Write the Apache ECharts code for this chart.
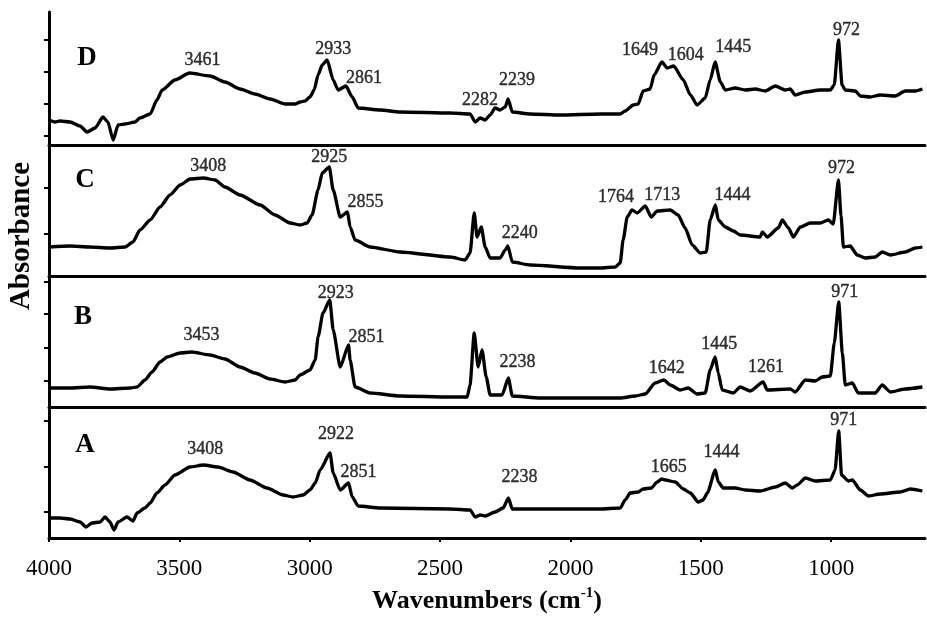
<!DOCTYPE html>
<html>
<head>
<meta charset="utf-8">
<script src="https://cdn.jsdelivr.net/npm/echarts@6/dist/echarts.min.js"></script>
<style>
html, body { margin: 0; padding: 0; background: #fff; }
#chart { width: 927px; height: 620px; }
</style>
</head>
<body>
<div id="chart"></div>
<script>
// spectra: [wavenumber, absorbance in arbitrary units]
var specD = [[4000,25],[3977,23],[3958,24],[3919,23],[3881,19],[3854,13],[3823,17],[3793,28],[3774,23],[3754,5],[3735,20],[3708,21],[3670,23],[3651,27],[3612,31],[3586,45],[3566,55],[3517,65],[3461,72],[3382,69],[3325,63],[3267,56],[3210,51],[3152,46],[3094,41],[3056,41],[3037,43],[3018,44],[2999,48],[2983,55],[2968,70],[2952,80],[2933,85],[2910,65],[2891,55],[2861,59],[2837,48],[2814,37],[2730,35],[2653,33],[2461,32],[2385,31],[2365,23],[2346,27],[2327,25],[2308,30],[2289,37],[2270,35],[2250,38],[2239,46],[2223,33],[2154,31],[2039,30],[1886,31],[1809,31],[1790,34],[1759,40],[1740,41],[1721,54],[1694,56],[1679,70],[1649,83],[1629,77],[1604,79],[1567,65],[1540,50],[1514,40],[1483,47],[1464,65],[1445,83],[1425,63],[1406,55],[1368,57],[1329,55],[1291,56],[1253,54],[1214,59],[1176,55],[1157,56],[1138,50],[1099,53],[1042,55],[1003,55],[988,60],[972,105],[958,60],[946,55],[907,54],[888,49],[850,48],[812,50],[754,49],[716,54],[677,54],[650,56]]
var specC = [[4000,29],[3919,30],[3843,29],[3766,28],[3708,29],[3678,34],[3651,46],[3612,56],[3574,69],[3536,81],[3497,91],[3459,97],[3408,98],[3363,96],[3325,89],[3267,81],[3190,71],[3133,61],[3075,53],[3037,51],[3010,53],[2991,61],[2968,86],[2952,103],[2925,109],[2910,86],[2883,59],[2855,64],[2845,49],[2826,36],[2768,29],[2653,24],[2461,19],[2404,16],[2385,23],[2369,63],[2358,39],[2342,49],[2327,29],[2308,18],[2270,18],[2250,26],[2240,30],[2223,14],[2154,11],[1963,8],[1886,8],[1828,9],[1809,13],[1798,36],[1782,59],[1764,66],[1744,63],[1713,70],[1690,59],[1667,65],[1617,66],[1587,61],[1560,48],[1533,31],[1502,23],[1479,24],[1464,56],[1444,71],[1433,56],[1406,49],[1375,45],[1349,41],[1272,39],[1264,44],[1245,39],[1203,48],[1187,56],[1164,48],[1145,39],[1118,49],[1080,53],[1042,53],[1011,56],[992,52],[972,96],[962,60],[953,29],[927,30],[900,21],[869,18],[831,19],[804,24],[773,21],[716,24],[677,28],[650,29]]
var specB = [[4000,19],[3919,19],[3843,20],[3766,18],[3689,19],[3662,20],[3632,27],[3605,35],[3574,45],[3547,50],[3497,54],[3453,55],[3382,52],[3325,48],[3267,40],[3210,34],[3152,28],[3094,25],[3056,27],[3037,32],[2999,37],[2979,47],[2968,70],[2949,94],[2923,107],[2910,77],[2883,40],[2851,62],[2845,47],[2826,20],[2768,14],[2653,11],[2461,10],[2396,10],[2385,22],[2369,74],[2354,40],[2339,57],[2323,30],[2308,12],[2262,12],[2238,29],[2223,11],[2116,9],[1886,9],[1809,9],[1751,11],[1713,13],[1675,24],[1642,27],[1617,22],[1579,17],[1548,19],[1514,13],[1483,14],[1464,37],[1445,50],[1433,34],[1418,17],[1375,14],[1349,20],[1310,16],[1261,25],[1245,17],[1157,18],[1138,15],[1099,27],[1061,26],[1034,30],[1003,31],[988,64],[971,105],[957,54],[946,22],[919,24],[896,14],[831,14],[804,22],[773,15],[716,18],[650,20]]
var specA = [[4000,20],[3958,20],[3919,19],[3881,16],[3858,11],[3835,15],[3804,16],[3785,21],[3766,16],[3751,8],[3735,16],[3701,21],[3678,17],[3662,25],[3632,30],[3612,35],[3586,45],[3555,53],[3517,63],[3459,71],[3408,73],[3352,71],[3294,66],[3229,58],[3164,50],[3102,43],[3064,41],[3025,43],[2999,48],[2979,55],[2960,68],[2922,85],[2910,65],[2883,48],[2851,55],[2837,41],[2814,32],[2730,30],[2461,29],[2385,28],[2365,21],[2346,23],[2327,22],[2289,26],[2258,30],[2238,40],[2223,29],[2154,29],[1886,29],[1809,30],[1790,38],[1771,45],[1740,46],[1721,49],[1690,50],[1667,56],[1650,59],[1636,58],[1598,56],[1567,49],[1540,45],[1510,36],[1491,38],[1475,45],[1444,68],[1433,56],[1414,50],[1368,50],[1329,48],[1272,47],[1214,51],[1176,55],[1149,50],[1130,53],[1099,60],[1061,57],[1003,58],[985,68],[971,107],[960,63],[934,57],[919,58],[888,48],[857,42],[812,44],[735,46],[696,49],[650,47]]

// labelled peaks (cm-1)
var peaksD = [3461, 2933, 2861, 2282, 2239, 1649, 1604, 1445, 972]
var peaksC = [3408, 2925, 2855, 2240, 1764, 1713, 1444, 972]
var peaksB = [3453, 2923, 2851, 2238, 1642, 1445, 1261, 971]
var peaksA = [3408, 2922, 2851, 2238, 1665, 1444, 971]

// y tick marks of each panel
var ticksD = [9, 41, 73, 105]
var ticksC = [42, 88]
var ticksB = [26, 59, 93, 125]
var ticksA = [26, 71, 117]

var xTicks = [4000, 3500, 3000, 2500, 2000, 1500, 1000]

var serif = '"Liberation Serif", "DejaVu Serif", serif'

// nudges of the peak labels in px, relative to the peak top
var labelShift = {
  D: { 3461: [13, -13], 2933: [6, -11], 2861: [18, -8], 2282: [-15, -8], 2239: [9, -19], 1649: [-22, -12], 1604: [12, -11], 1445: [18, -15], 972: [8, -10] },
  C: { 3408: [5, -12], 2925: [0, -10], 2855: [18, -10], 2240: [12, -13], 1764: [-16, -13], 1713: [17, -11], 1444: [17, -10], 972: [3, -12] },
  B: { 3453: [10, -17], 2923: [6, -7], 2851: [18, -8], 2238: [9, -16], 1642: [3, -12], 1445: [4, -13], 1261: [3, -15], 971: [6, -10] },
  A: { 3408: [2, -16], 2922: [6, -19], 2851: [10, -11], 2238: [11, -21], 1665: [7, -12], 1444: [6, -18], 971: [5, -11] }
}

var panels = [
  { name: 'D', spec: specD, peaks: peaksD, ticks: ticksD, top: 12, height: 133, letter: [87, 58] },
  { name: 'C', spec: specC, peaks: peaksC, ticks: ticksC, top: 145, height: 131, letter: [85, 180] },
  { name: 'B', spec: specB, peaks: peaksB, ticks: ticksB, top: 276, height: 131, letter: [83, 317] },
  { name: 'A', spec: specA, peaks: peaksA, ticks: ticksA, top: 407, height: 131, letter: [85, 445] }
]

function peakPoint(spec, wn) {
  var best = null
  for (var i = 0; i < spec.length; i++) {
    if (Math.abs(spec[i][0] - wn) <= 20 && (best === null || spec[i][1] > best[1])) best = spec[i]
  }
  return best
}

var grids = []
var xAxes = []
var yAxes = []
var series = []
var graphics = []

for (var i = 0; i < panels.length; i++) {
  var p = panels[i]
  var last = i === panels.length - 1
  grids.push({ left: 49, right: 2, top: p.top, height: p.height })
  xAxes.push({
    gridIndex: i,
    type: 'value',
    inverse: true,
    min: 640,
    max: 4000,
    axisLine: { lineStyle: { color: '#000', width: 3 } },
    splitLine: { show: false },
    axisTick: { show: last, customValues: xTicks, length: 4, lineStyle: { color: '#000', width: 2 } },
    axisLabel: {
      show: last,
      customValues: xTicks,
      margin: 19,
      color: '#000',
      fontSize: 23,
      fontFamily: serif,
      formatter: function (v) { return String(v) }
    },
    name: last ? '{a|Wavenumbers (cm}{s|-1}{a|)}' : '',
    nameLocation: 'middle',
    nameGap: 48,
    nameTextStyle: {
      rich: {
        a: { fontSize: 26, fontWeight: 'bold', fontFamily: serif, color: '#000', lineHeight: 30 },
        s: { fontSize: 15, fontWeight: 'bold', fontFamily: serif, color: '#000', verticalAlign: 'top', lineHeight: 30, padding: [0, 0, 10, 0] }
      }
    }
  })
  yAxes.push({
    gridIndex: i,
    type: 'value',
    min: 0,
    max: p.height,
    axisLine: { show: true, lineStyle: { color: '#000', width: 3 } },
    axisTick: { show: true, customValues: p.ticks, length: 5, lineStyle: { color: '#000', width: 2 } },
    axisLabel: { show: false },
    splitLine: { show: false }
  })
  series.push({
    type: 'line',
    xAxisIndex: i,
    yAxisIndex: i,
    data: p.spec,
    showSymbol: false,
    silent: true,
    smooth: 0.2,
    smoothMonotone: 'x',
    lineStyle: { color: '#000', width: 3.3, join: 'round' }
  })
  var labels = p.peaks.map(function (wn) {
    var pt = peakPoint(p.spec, wn)
    return {
      value: pt,
      label: { formatter: String(wn), offset: labelShift[p.name][wn] }
    }
  })
  series.push({
    type: 'scatter',
    xAxisIndex: i,
    yAxisIndex: i,
    symbolSize: 0,
    silent: true,
    data: labels,
    label: {
      show: true,
      position: 'inside',
      color: '#000',
      fontSize: 18,
      fontFamily: serif,
      textBorderColor: '#000',
      textBorderWidth: 0.4
    },
    z: 5
  })
  graphics.push({
    type: 'text',
    x: p.letter[0],
    y: p.letter[1],
    style: { text: p.name, fontSize: 27, fontWeight: 'bold', fontFamily: serif, fill: '#000', align: 'center', verticalAlign: 'middle' }
  })
}

graphics.push({
  type: 'text',
  x: 22,
  y: 236,
  rotation: Math.PI / 2,
  style: { text: 'Absorbance', fontSize: 29, fontWeight: 'bold', fontFamily: serif, fill: '#000', align: 'center', verticalAlign: 'middle' }
})

var chart = echarts.init(document.getElementById('chart'))
var option = {
  backgroundColor: '#fff',
  animation: false,
  grid: grids,
  xAxis: xAxes,
  yAxis: yAxes,
  series: series,
  graphic: graphics
}
chart.setOption(option)
</script>
</body>
</html>
